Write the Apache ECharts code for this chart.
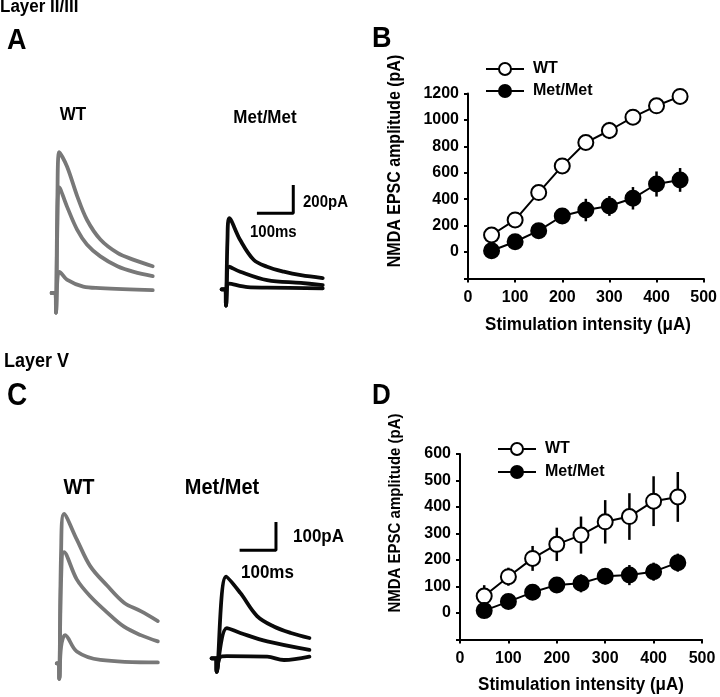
<!DOCTYPE html>
<html>
<head>
<meta charset="utf-8">
<script src="https://cdn.jsdelivr.net/npm/echarts@6.0.0/dist/echarts.min.js"></script>
<style>
  body { margin: 0; background: #fff; }
  #fig { width: 720px; height: 697px; }
</style>
</head>
<body>
<div id="fig"></div>
<script>
// stimulation intensities (uA)
var stim = [50, 100, 150, 200, 250, 300, 350, 400, 450];

// Layer II/III (panel B), pA
var wtII = [129, 243, 450, 652, 829, 920, 1021, 1107, 1178];
var wtIIErr = [30, 35, 40, 45, 45, 65, 55, 45, 40];
var metII = [10, 78, 162, 273, 318, 349, 407, 515, 546];
var metIIErr = [25, 25, 30, 40, 85, 75, 85, 95, 90];

// Layer V (panel D), pA
var wtV = [64, 137, 206, 259, 294, 344, 364, 422, 438];
var wtVErr = [41, 34, 47, 63, 70, 82, 88, 94, 94];
var metV = [9, 43, 78, 106, 112, 139, 143, 156, 190];
var metVErr = [10, 15, 20, 28, 34, 31, 38, 34, 34];

var yTicksII = [-200, 1200, 200];
var yTicksV = [-100, 600, 100];
var xTicks = [0, 500, 100];

// example traces, [ms, pA]
var traceA_wt = [
  [[-12,0],[-1,0],[0,-140],[4,700],[9,1000],[30,900],[58,690],[85,520],[122,380],[169,285],[214,235],[266,190]],
  [[-12,0],[-1,0],[0,-140],[4,500],[9,750],[30,615],[58,450],[85,345],[122,260],[169,190],[214,150],[266,120]],
  [[-12,0],[-1,0],[0,-140],[4,100],[9,150],[30,95],[75,45],[122,35],[266,20]]
];
var traceA_met = [
  [[-12,0],[-1,0],[0,-115],[4,350],[9,505],[39,350],[76,210],[113,160],[159,125],[206,100],[266,80]],
  [[-12,0],[-1,0],[0,-115],[9,160],[39,125],[113,65],[206,45],[266,30]],
  [[-12,0],[-1,0],[0,-115],[9,40],[60,15],[113,12],[266,7]]
];
var traceC_wt = [
  [[-7,0],[-1,0],[0,-55],[5,400],[13,530],[48,440],[85,345],[132,275],[178,215],[224,185],[271,150]],
  [[-7,0],[-1,0],[0,-55],[5,300],[13,395],[48,298],[85,238],[132,180],[178,130],[224,100],[271,78]],
  [[-7,0],[-1,0],[0,-55],[5,60],[16,100],[48,42],[113,12],[271,3]]
];
var traceC_met = [
  [[-14,0],[-1,0],[0,-48],[26,290],[65,232],[111,150],[157,113],[204,90],[255,72]],
  [[-14,0],[-1,0],[0,-48],[28,107],[65,90],[139,60],[255,30]],
  [[-14,0],[-1,0],[0,-48],[10,5],[28,8],[139,6],[185,-6],[255,6]]
];

// scale bars [ms, pA]
var scaleA = [100, 200];
var scaleC = [100, 100];

var FONT = '"Liberation Sans", Arial, sans-serif';
var chart = echarts.init(document.getElementById('fig'), null, {renderer: 'canvas'});

// place a hidden grid so that onset/baseline lands on a given pixel
function traceGrid(onsetX, baseY, xr, yr, msPx, pAPx) {
  return {
    left: onsetX + xr[0] / msPx,
    width: (xr[1] - xr[0]) / msPx,
    top: baseY - yr[1] / pAPx,
    height: (yr[1] - yr[0]) / pAPx
  };
}

var xrT = [-20, 300];
var yrA = [-200, 1100];
var yrC = [-100, 600];

var grids = [
  traceGrid(56, 293, xrT, yrA, 2.75, 7.1),
  traceGrid(226, 289.3, xrT, yrA, 2.75, 7.1),
  traceGrid(59.3, 663.3, xrT, yrC, 2.75, 3.55),
  traceGrid(216.7, 658.3, xrT, yrC, 2.75, 3.55),
  {left: 468, top: 93.5, width: 237, height: 185},
  {left: 460, top: 454, width: 242, height: 185.5}
];

var xAxes = [], yAxes = [];
for (var g = 0; g < 4; g++) {
  xAxes.push({gridIndex: g, type: 'value', show: false, min: xrT[0], max: xrT[1]});
  var yr = g < 2 ? yrA : yrC;
  yAxes.push({gridIndex: g, type: 'value', show: false, min: yr[0], max: yr[1]});
}

function valueAxis(g, ticks, isY) {
  return {
    gridIndex: g,
    type: 'value',
    min: ticks[0], max: ticks[1], interval: ticks[2],
    axisLine: {show: true, onZero: false, lineStyle: {color: '#000', width: 2}},
    axisTick: {show: true, inside: false, length: 4, lineStyle: {color: '#000', width: 2}},
    splitLine: {show: false},
    axisLabel: {
      color: '#000', fontFamily: FONT, fontWeight: 'bold', fontSize: 16,
      margin: isY ? 9 : 11,
      formatter: function (v) { return v < 0 ? '' : v; }
    }
  };
}
xAxes.push(valueAxis(4, xTicks, false));
yAxes.push(valueAxis(4, yTicksII, true));
xAxes.push(valueAxis(5, xTicks, false));
yAxes.push(valueAxis(5, yTicksV, true));

var series = [];

function addTraces(list, g, color) {
  list.forEach(function (tr) {
    series.push({
      type: 'line', xAxisIndex: g, yAxisIndex: g, data: tr,
      symbol: 'none', smooth: 0.35, silent: true,
      lineStyle: {color: color, width: 3.8, cap: 'round', join: 'round'}
    });
  });
}
addTraces(traceA_wt, 0, '#787878');
addTraces(traceA_met, 1, '#0a0a0a');
addTraces(traceC_wt, 2, '#787878');
addTraces(traceC_met, 3, '#0a0a0a');

function addScaleBar(g, corner, sc) {
  series.push({
    type: 'line', xAxisIndex: g, yAxisIndex: g, symbol: 'none', silent: true,
    data: [[corner[0] - sc[0], corner[1]], corner, [corner[0], corner[1] + sc[1]]],
    lineStyle: {color: '#000', width: 3}
  });
}
addScaleBar(1, [185, 540], scaleA);
addScaleBar(3, [163, 384], scaleC);

function errSeries(g, vals, errs) {
  return {
    type: 'custom', xAxisIndex: g, yAxisIndex: g, silent: true, z: 1,
    data: stim.map(function (s, i) { return [s, vals[i] - errs[i], vals[i] + errs[i]]; }),
    renderItem: function (params, api) {
      var lo = api.coord([api.value(0), api.value(1)]);
      var hi = api.coord([api.value(0), api.value(2)]);
      return {
        type: 'line',
        shape: {x1: lo[0], y1: lo[1], x2: hi[0], y2: hi[1]},
        style: {stroke: '#000', lineWidth: 2.5}
      };
    }
  };
}

function meanSeries(g, name, vals, fill) {
  return {
    name: name, type: 'line', xAxisIndex: g, yAxisIndex: g, z: 3,
    data: stim.map(function (s, i) { return [s, vals[i]]; }),
    symbol: 'circle', symbolSize: 15, showAllSymbol: true,
    lineStyle: {color: '#000', width: 2},
    itemStyle: {color: fill, borderColor: '#000', borderWidth: 2}
  };
}

series.push(errSeries(4, wtII, wtIIErr), errSeries(4, metII, metIIErr));
series.push(meanSeries(4, 'WT', wtII, '#fff'), meanSeries(4, 'Met/Met', metII, '#000'));
series.push(errSeries(5, wtV, wtVErr), errSeries(5, metV, metVErr));
series.push(meanSeries(5, 'WT', wtV, '#fff'), meanSeries(5, 'Met/Met', metV, '#000'));

function legendAt(left, top, gap) {
  return {
    data: ['WT', 'Met/Met'], orient: 'vertical', left: left, top: top,
    itemWidth: 38, itemHeight: 15, itemGap: gap, padding: 0,
    selectedMode: false,
    textStyle: {color: '#000', fontFamily: FONT, fontWeight: 'bold', fontSize: 16, padding: [0, 0, 0, 4]}
  };
}

// text is slightly stretched vertically in the original figure
function label(text, x, y, size, align, rot) {
  return {
    type: 'text', x: x, y: y, rotation: rot || 0, scaleY: 1.1, silent: true,
    style: {
      text: text, fill: '#000', font: 'bold ' + size + 'px ' + FONT,
      align: align || 'left', verticalAlign: 'middle'
    }
  };
}

var texts = [
  label('Layer II/III', 0, 7, 17),
  label('A', 7, 41, 27),
  label('B', 372, 39, 27),
  label('Layer V', 4, 361.5, 18),
  label('C', 7, 397, 28),
  label('D', 372, 396, 26),
  label('WT', 73, 115, 17, 'center'),
  label('Met/Met', 265, 118, 17, 'center'),
  label('200pA', 303, 202, 15),
  label('100ms', 250, 232, 15),
  label('WT', 79, 488, 20, 'center'),
  label('Met/Met', 222, 488, 20, 'center'),
  label('100pA', 293, 537, 17),
  label('100ms', 241, 573, 17),
  label('NMDA EPSC amplitude (pA)', 395, 161, 16, 'center', Math.PI / 2),
  label('NMDA EPSC amplitude (pA)', 395, 513, 15, 'center', Math.PI / 2),
  label('Stimulation intensity (\u03bcA)', 588, 325, 17, 'center'),
  label('Stimulation intensity (\u03bcA)', 581, 685, 17, 'center')
];

chart.setOption({
  backgroundColor: '#fff',
  animation: false,
  grid: grids,
  xAxis: xAxes,
  yAxis: yAxes,
  legend: [legendAt(485, 61, 6), legendAt(497, 441, 7)],
  series: series,
  graphic: texts
});
</script>
</body>
</html>
